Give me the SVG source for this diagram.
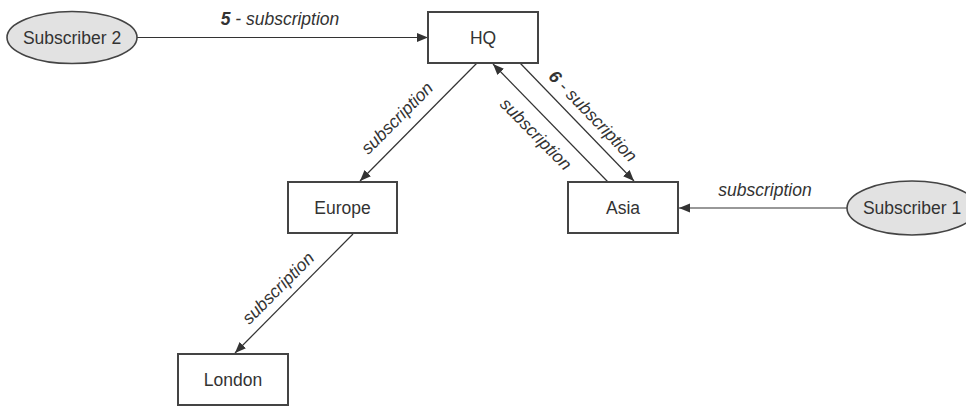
<svg xmlns="http://www.w3.org/2000/svg" width="966" height="407" viewBox="0 0 966 407">
<defs>
<style>
.box{fill:#fff;stroke:#444;stroke-width:2}
.sub{fill:#e2e2e2;stroke:#444;stroke-width:1.6}
.t{font-family:"Liberation Sans",Arial,sans-serif;font-size:17.5px;fill:#333;text-anchor:middle}
.l{font-family:"Liberation Sans",Arial,sans-serif;font-size:17.5px;fill:#333;text-anchor:middle;font-style:italic}
.c{stroke:#333;stroke-width:1.2;fill:none;marker-end:url(#ah)}
</style>
<marker id="ah" markerUnits="userSpaceOnUse" markerWidth="12" markerHeight="10" refX="11" refY="4.5" orient="auto">
<path d="M0,0 L11,4.5 L0,9 Z" fill="#333"/>
</marker>
</defs>
<g id="connectors">
<line class="c" x1="137" y1="37.5" x2="428" y2="37.5"/>
<line class="c" x1="477" y1="63" x2="360" y2="181"/>
<line class="c" x1="608" y1="182" x2="493" y2="64"/>
<line class="c" x1="520" y1="63" x2="634" y2="181"/>
<line class="c" x1="847" y1="208" x2="679" y2="208"/>
<line class="c" x1="353" y1="234" x2="235" y2="353"/>
<text class="l" x="280" y="25"><tspan font-weight="bold">5</tspan> - subscription</text>
<text class="l" transform="translate(397,118) rotate(-45.2)" y="6">subscription</text>
<text class="l" transform="translate(536,134) rotate(45.5)" y="6">subscription</text>
<text class="l" transform="translate(593,116) rotate(46.2)" y="6"><tspan font-weight="bold">6</tspan> - subscription</text>
<text class="l" x="765" y="196">subscription</text>
<text class="l" transform="translate(278,288) rotate(-45)" y="6">subscription</text>
</g>
<g id="sub2"><ellipse class="sub" cx="72" cy="37.5" rx="65" ry="26"/><text class="t" x="72" y="43.5">Subscriber 2</text></g>
<g id="hq"><rect class="box" x="428" y="12" width="110" height="51"/><text class="t" x="483" y="43.5">HQ</text></g>
<g id="europe"><rect class="box" x="288" y="182" width="109" height="51"/><text class="t" x="342.5" y="213.5">Europe</text></g>
<g id="asia"><rect class="box" x="568" y="182" width="110" height="51"/><text class="t" x="623" y="213.5">Asia</text></g>
<g id="sub1"><ellipse class="sub" cx="912" cy="208" rx="65" ry="27"/><text class="t" x="912" y="214">Subscriber 1</text></g>
<g id="london"><rect class="box" x="178" y="354" width="110" height="51"/><text class="t" x="233" y="385.5">London</text></g>
</svg>
